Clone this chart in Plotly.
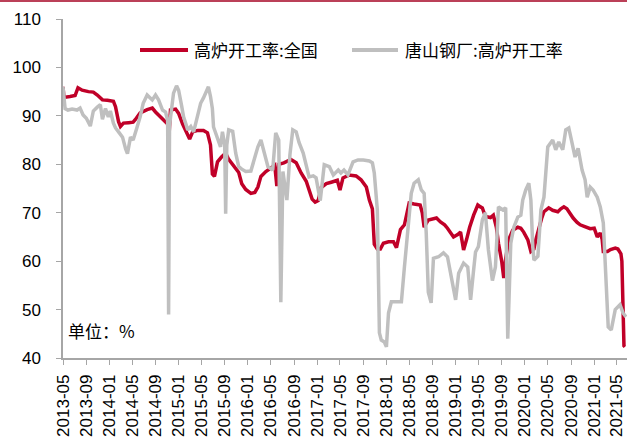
import plotly.graph_objects as go

# 高炉开工率:全国 (weekly, %)
national_dates = [
    "2013-05-01", "2013-05-06", "2013-06-07", "2013-07-04", "2013-07-19", "2013-08-10",
    "2013-09-12", "2013-10-08", "2013-10-29", "2013-11-25", "2013-12-21", "2014-01-22",
    "2014-02-02", "2014-02-18", "2014-02-28", "2014-03-16", "2014-04-12", "2014-05-06",
    "2014-05-17", "2014-06-12", "2014-07-19", "2014-08-15", "2014-09-01", "2014-09-27",
    "2014-10-24", "2014-11-04", "2014-11-09", "2014-11-19", "2014-12-16", "2015-01-01",
    "2015-01-22", "2015-02-12", "2015-02-28", "2015-03-16", "2015-04-12", "2015-05-12",
    "2015-06-02", "2015-06-18", "2015-06-28", "2015-07-09", "2015-07-25", "2015-08-15",
    "2015-09-06", "2015-09-22", "2015-10-19", "2015-11-14", "2015-11-30", "2015-12-21",
    "2016-01-17", "2016-02-07", "2016-02-23", "2016-03-10", "2016-04-05", "2016-05-01",
    "2016-05-22", "2016-06-02", "2016-06-12", "2016-07-09", "2016-08-15", "2016-09-12",
    "2016-10-08", "2016-11-04", "2016-11-19", "2016-12-05", "2016-12-21", "2017-01-06",
    "2017-01-22", "2017-02-18", "2017-03-16", "2017-04-17", "2017-05-01", "2017-05-17",
    "2017-06-18", "2017-07-25", "2017-08-20", "2017-09-17", "2017-10-03", "2017-10-19",
    "2017-10-29", "2017-11-14", "2017-11-30", "2017-12-16", "2018-01-12", "2018-02-07",
    "2018-02-23", "2018-03-16", "2018-04-06", "2018-04-22", "2018-05-01", "2018-05-27",
    "2018-06-28", "2018-07-09", "2018-07-19", "2018-08-10", "2018-09-01", "2018-09-22",
    "2018-10-13", "2018-11-04", "2018-11-19", "2018-12-11", "2018-12-21", "2019-01-12",
    "2019-01-27", "2019-02-07", "2019-02-12", "2019-02-28", "2019-03-16", "2019-04-06",
    "2019-04-22", "2019-04-28", "2019-05-12", "2019-05-22", "2019-06-07", "2019-07-04",
    "2019-07-19", "2019-08-04", "2019-08-15", "2019-09-01", "2019-09-12", "2019-09-22",
    "2019-10-08", "2019-10-29", "2019-11-25", "2019-12-11", "2019-12-26", "2020-01-17",
    "2020-02-02", "2020-02-18", "2020-02-28", "2020-03-15", "2020-03-31", "2020-04-11",
    "2020-05-06", "2020-05-27", "2020-06-23", "2020-07-09", "2020-07-25", "2020-08-10",
    "2020-08-20", "2020-09-12", "2020-10-03", "2020-10-19", "2020-11-09", "2020-11-25",
    "2020-12-11", "2021-01-01", "2021-01-17", "2021-02-02", "2021-02-12", "2021-02-18",
    "2021-03-12", "2021-03-28", "2021-04-22", "2021-05-06", "2021-05-22", "2021-05-27",
    "2021-06-07", "2021-06-12",
]
national_rate = [
    96.0, 93.8, 94.0, 94.2, 95.8, 95.3,
    95.0, 94.9, 94.3, 93.3, 93.2, 93.0,
    91.9, 88.8, 87.8, 88.5, 88.6, 88.7,
    89.2, 90.6, 91.3, 91.6, 90.8, 89.8,
    88.6, 88.3, 84.5, 91.2, 91.4, 90.5,
    88.3, 86.7, 85.2, 86.7, 87.0, 87.0,
    86.5, 84.0, 78.0, 77.5, 80.5, 81.5,
    82.3, 81.0, 79.5, 78.3, 76.0, 74.8,
    74.0, 74.2, 75.3, 77.5, 78.5, 79.2,
    79.8, 75.5, 80.0, 80.3, 81.0, 80.3,
    78.2, 76.5, 74.5, 72.8, 72.2, 72.5,
    75.2, 76.0, 76.3, 76.7, 74.7, 77.2,
    77.8, 77.6, 76.8, 75.3, 72.6, 70.8,
    63.5, 62.5, 62.5, 63.7, 64.0, 64.0,
    62.8, 66.5, 67.5, 71.0, 72.0, 71.8,
    71.6, 70.0, 67.0, 68.5, 68.8, 68.9,
    68.1, 67.5, 66.8, 65.5, 65.0, 65.5,
    66.0, 63.5, 62.3, 64.5, 67.0, 69.5,
    71.0, 71.6, 71.2, 71.0, 69.2, 69.0,
    69.5, 67.0, 63.7, 60.0, 56.5, 60.5,
    64.4, 66.4, 67.0, 66.8, 66.0, 64.4,
    62.0, 62.5, 64.4, 67.0, 69.0, 70.2,
    71.0, 70.5, 70.2, 70.8, 71.2, 70.8,
    70.2, 68.9, 68.0, 67.5, 67.2, 67.0,
    66.7, 66.8, 65.0, 65.8, 64.5, 62.0,
    62.0, 62.4, 62.7, 62.5, 61.5, 60.0,
    42.5, 42.3,
]

# 唐山钢厂:高炉开工率 (weekly, %)
tangshan_dates = [
    "2013-05-01", "2013-05-12", "2013-05-27", "2013-06-18", "2013-07-14", "2013-07-30",
    "2013-08-15", "2013-09-01", "2013-09-22", "2013-10-08", "2013-10-29", "2013-11-14",
    "2013-11-25", "2013-12-11", "2013-12-26", "2014-01-06", "2014-01-22", "2014-02-02",
    "2014-02-18", "2014-03-11", "2014-03-27", "2014-04-06", "2014-04-22", "2014-05-06",
    "2014-05-27", "2014-06-12", "2014-06-28", "2014-07-19", "2014-08-04", "2014-08-15",
    "2014-09-01", "2014-09-17", "2014-10-08", "2014-10-24", "2014-11-04", "2014-11-09",
    "2014-11-14", "2014-11-25", "2014-12-05", "2014-12-21", "2015-01-01", "2015-01-17",
    "2015-01-27", "2015-02-18", "2015-03-06", "2015-03-21", "2015-04-12", "2015-04-27",
    "2015-05-12", "2015-05-27", "2015-06-07", "2015-06-18", "2015-06-28", "2015-07-04",
    "2015-07-25", "2015-08-10", "2015-08-20", "2015-09-01", "2015-09-06", "2015-09-12",
    "2015-09-22", "2015-10-13", "2015-10-29", "2015-11-14", "2015-11-30", "2015-12-21",
    "2016-01-17", "2016-02-02", "2016-02-23", "2016-03-10", "2016-03-26", "2016-04-16",
    "2016-05-11", "2016-05-27", "2016-06-12", "2016-06-23", "2016-07-04", "2016-07-25",
    "2016-08-10", "2016-08-25", "2016-09-12", "2016-09-27", "2016-10-19", "2016-11-04",
    "2016-11-19", "2016-12-11", "2016-12-26", "2017-01-17", "2017-02-07", "2017-03-06",
    "2017-03-27", "2017-04-22", "2017-05-06", "2017-05-22", "2017-06-12", "2017-07-09",
    "2017-08-04", "2017-09-01", "2017-10-03", "2017-10-19", "2017-10-29", "2017-11-14",
    "2017-11-25", "2017-12-05", "2017-12-21", "2018-01-01", "2018-01-12", "2018-01-27",
    "2018-02-28", "2018-03-21", "2018-04-06", "2018-04-27", "2018-05-12", "2018-05-27",
    "2018-06-18", "2018-07-04", "2018-07-19", "2018-07-30", "2018-08-10", "2018-08-25",
    "2018-09-06", "2018-10-03", "2018-10-29", "2018-11-19", "2018-12-16", "2019-01-01",
    "2019-01-17", "2019-02-12", "2019-03-06", "2019-03-21", "2019-04-06", "2019-04-16",
    "2019-05-01", "2019-05-22", "2019-06-07", "2019-06-23", "2019-07-14", "2019-07-30",
    "2019-08-15", "2019-09-06", "2019-09-22", "2019-10-03", "2019-10-19", "2019-11-04",
    "2019-11-25", "2019-12-11", "2019-12-21", "2020-01-06", "2020-01-22", "2020-02-02",
    "2020-02-12", "2020-02-18", "2020-03-10", "2020-03-26", "2020-04-11", "2020-04-21",
    "2020-05-01", "2020-05-27", "2020-06-12", "2020-06-28", "2020-07-19", "2020-08-04",
    "2020-08-20", "2020-09-06", "2020-09-22", "2020-10-08", "2020-10-29", "2020-11-14",
    "2020-11-25", "2020-12-11", "2020-12-26", "2021-01-17", "2021-02-02", "2021-02-18",
    "2021-02-28", "2021-03-11", "2021-03-16", "2021-04-01", "2021-04-22", "2021-05-17",
    "2021-06-02", "2021-06-18",
]
tangshan_rate = [
    96.0, 91.5, 91.2, 91.4, 91.2, 91.6,
    90.2, 89.5, 87.9, 91.0, 91.8, 92.3,
    89.3, 91.5, 89.8, 91.0, 88.5, 87.5,
    86.7, 85.6, 83.2, 82.2, 85.6, 85.0,
    87.7, 89.8, 92.6, 94.3, 93.7, 93.3,
    94.3, 93.3, 91.2, 90.8, 89.0, 49.0,
    88.0, 91.5, 94.7, 96.2, 95.3, 92.0,
    89.8, 87.1, 87.8, 86.7, 90.6, 92.6,
    93.7, 95.3, 96.0, 94.0, 91.5, 87.7,
    85.6, 83.6, 86.7, 84.0, 69.8, 84.0,
    87.1, 86.8, 82.3, 79.5, 79.0, 78.5,
    78.6, 81.0, 83.6, 85.0, 82.3, 79.5,
    78.8, 86.5, 85.0, 51.5, 78.5, 72.6,
    82.0, 87.1, 86.7, 84.5, 82.3, 79.5,
    77.4, 77.6, 77.2, 72.5, 79.9, 79.5,
    77.8, 78.8, 78.2, 78.8, 77.8, 80.5,
    80.9, 80.9, 80.7, 80.3, 78.2, 70.6,
    45.2, 43.7, 43.3, 42.3, 49.3, 51.6,
    51.6, 51.6, 58.8, 67.9, 74.0, 76.1,
    76.8, 74.7, 74.0, 65.8, 53.6, 51.4,
    60.6, 60.9, 61.7, 60.9, 55.7, 52.0,
    57.5, 59.6, 58.8, 52.0, 58.2, 61.9,
    63.0, 68.5, 70.0, 62.3, 56.0, 58.8,
    71.2, 70.6, 71.0, 44.0, 63.7, 67.0,
    69.1, 69.5, 72.6, 74.7, 76.1, 72.6,
    63.0, 60.2, 61.0, 70.6, 73.2, 78.2,
    83.6, 85.0, 83.0, 84.6, 83.0, 87.1,
    87.5, 84.4, 81.5, 83.3, 78.8, 76.8,
    73.2, 75.3, 74.7, 73.2, 71.2, 67.9,
    60.0, 52.0, 46.4, 45.8, 50.0, 51.0,
    49.3, 48.5,
]

series_names = ["高炉开工率:全国", "唐山钢厂:高炉开工率"]
series_colors = ["#C00028", "#BFBFBF"]
unit_label = "单位：%"

W, H = 627, 439
M_L, M_R, M_T, M_B = 63, 0, 19, 81
PW, PH = W - M_L - M_R, H - M_T - M_B


def px_x(x):
    return (x - M_L) / PW


def px_y(y):
    return (H - M_B - y) / PH


fig = go.Figure()
fig.add_trace(go.Scatter(
    x=national_dates, y=national_rate, mode="lines", name=series_names[0],
    line=dict(color=series_colors[0], width=3.5), showlegend=False,
))
fig.add_trace(go.Scatter(
    x=tangshan_dates, y=tangshan_rate, mode="lines", name=series_names[1],
    line=dict(color=series_colors[1], width=3.5), showlegend=False,
))

tick_font = dict(family="Liberation Sans, Arial, sans-serif", size=17, color="#000000")
cjk_font = dict(family="Noto Sans CJK SC, sans-serif", size=17, color="#000000")
axis_grey = "#A6A6A6"

# legend drawn as line samples + labels across the top of the plot
legend_y = px_y(50)
shapes = [
    dict(type="line", xref="paper", yref="paper", x0=px_x(140), x1=px_x(188),
         y0=legend_y, y1=legend_y, line=dict(color=series_colors[0], width=4)),
    dict(type="line", xref="paper", yref="paper", x0=px_x(352), x1=px_x(398),
         y0=legend_y, y1=legend_y, line=dict(color=series_colors[1], width=4)),
    # thin rule along the top edge of the figure
    dict(type="line", xref="paper", yref="paper", x0=px_x(0), x1=px_x(W),
         y0=px_y(1), y1=px_y(1), line=dict(color="#A50021", width=1.5)),
]
annotations = [
    dict(xref="paper", yref="paper", x=px_x(192), y=legend_y, text=series_names[0],
         showarrow=False, xanchor="left", yanchor="middle", font=cjk_font),
    dict(xref="paper", yref="paper", x=px_x(403), y=legend_y, text=series_names[1],
         showarrow=False, xanchor="left", yanchor="middle", font=cjk_font),
    dict(xref="paper", yref="paper", x=px_x(66), y=px_y(330), text=unit_label,
         showarrow=False, xanchor="left", yanchor="middle", font=cjk_font),
]

fig.update_layout(
    width=W, height=H,
    margin=dict(l=M_L, r=M_R, t=M_T, b=M_B, pad=0),
    paper_bgcolor="white", plot_bgcolor="white",
    shapes=shapes, annotations=annotations,
    showlegend=False,
)
fig.update_xaxes(
    type="date", range=["2013-05-01", "2021-06-23"],
    tick0="2013-05-01", dtick="M4", tickformat="%Y-%m", tickangle=-90,
    showgrid=False, zeroline=False,
    showline=True, linecolor=axis_grey, linewidth=1.5,
    ticks="outside", ticklen=5, tickwidth=1, tickcolor=axis_grey,
    tickfont=tick_font, ticklabelstandoff=3,
)
fig.update_yaxes(
    range=[40, 110], tick0=40, dtick=10,
    showgrid=False, zeroline=False,
    showline=True, linecolor=axis_grey, linewidth=1.5,
    ticks="outside", ticklen=5, tickwidth=1, tickcolor=axis_grey,
    tickfont=dict(tick_font, size=17), ticklabelstandoff=12,
)

fig.write_html("out.html")
